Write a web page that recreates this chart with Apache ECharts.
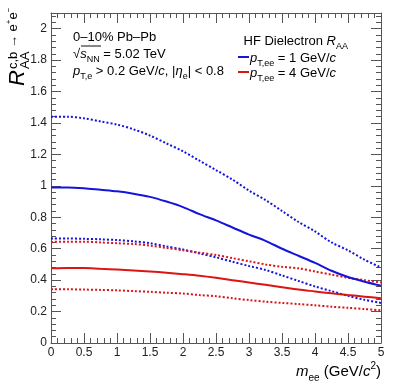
<!DOCTYPE html>
<html>
<head>
<meta charset="utf-8">
<script src="https://cdn.jsdelivr.net/npm/echarts@6/dist/echarts.min.js"></script>
<style>
  html, body { margin: 0; padding: 0; background: #fff; }
  #chart { width: 393px; height: 382px; }
</style>
</head>
<body>
<div id="chart"></div>
<script>
  // m_ee (GeV/c^2) sampling points
  const mee = [0, 0.25, 0.5, 0.75, 1, 1.25, 1.5, 1.75, 2, 2.25, 2.5, 2.75, 3, 3.25, 3.5, 3.75, 4, 4.25, 4.5, 4.75, 5]

  // pT,ee = 1 GeV/c : central value and band edges
  const blueCentral = [0.99, 0.99, 0.985, 0.975, 0.965, 0.95, 0.93, 0.90, 0.865, 0.82, 0.78, 0.735, 0.69, 0.65, 0.60, 0.555, 0.51, 0.46, 0.42, 0.39, 0.365]
  const blueUpper = [1.44, 1.44, 1.43, 1.41, 1.39, 1.36, 1.32, 1.27, 1.22, 1.16, 1.10, 1.04, 0.97, 0.91, 0.84, 0.77, 0.71, 0.64, 0.59, 0.53, 0.48]
  const blueLower = [0.665, 0.665, 0.663, 0.66, 0.655, 0.647, 0.635, 0.615, 0.595, 0.57, 0.545, 0.517, 0.49, 0.465, 0.43, 0.395, 0.36, 0.33, 0.30, 0.275, 0.255]

  // pT,ee = 4 GeV/c
  const redCentral = [0.475, 0.477, 0.477, 0.472, 0.468, 0.462, 0.455, 0.447, 0.438, 0.428, 0.415, 0.40, 0.385, 0.37, 0.355, 0.34, 0.328, 0.316, 0.305, 0.295, 0.285]
  const redUpper = [0.643, 0.645, 0.645, 0.64, 0.635, 0.63, 0.62, 0.605, 0.59, 0.575, 0.56, 0.54, 0.52, 0.50, 0.485, 0.475, 0.455, 0.435, 0.415, 0.40, 0.385]
  const redLower = [0.342, 0.342, 0.34, 0.338, 0.335, 0.33, 0.326, 0.32, 0.315, 0.305, 0.298, 0.285, 0.273, 0.263, 0.255, 0.248, 0.24, 0.231, 0.224, 0.216, 0.208]

  const blue = '#1414dc'
  const red = '#dc1414'
  const font = 'Liberation Sans, Arial, sans-serif'
  const axisColor = '#555'

  const chart = echarts.init(document.getElementById('chart'))

  function pairs (ys) {
    return mee.map(function (x, i) { return [x, ys[i]] })
  }

  function curve (name, ys, color, dotted) {
    return {
      name: name,
      type: 'line',
      data: pairs(ys),
      smooth: 0.3,
      symbol: 'none',
      silent: true,
      lineStyle: {
        color: color,
        width: 2,
        type: dotted ? [2, 2] : 'solid'
      }
    }
  }

  const tickStyle = { color: axisColor, width: 1 }

  function xAxisDef (top) {
    return {
      type: 'value',
      position: top ? 'top' : 'bottom',
      min: 0,
      max: 5,
      interval: 0.5,
      axisLine: { show: true, onZero: false, lineStyle: { color: axisColor } },
      axisTick: { show: true, inside: true, length: 10, lineStyle: tickStyle },
      minorTick: { show: true, splitNumber: 5, length: 5, lineStyle: tickStyle },
      axisLabel: {
        show: !top,
        color: '#222',
        fontFamily: font,
        fontSize: 12,
        margin: 4
      },
      splitLine: { show: false }
    }
  }

  function yAxisDef (right) {
    return {
      type: 'value',
      position: right ? 'right' : 'left',
      min: 0,
      max: 2.1,
      interval: 0.2,
      axisLine: { show: true, onZero: false, lineStyle: { color: axisColor } },
      axisTick: { show: true, inside: true, length: 10, lineStyle: tickStyle },
      minorTick: { show: true, splitNumber: 5, length: 5, lineStyle: tickStyle },
      axisLabel: {
        show: !right,
        color: '#222',
        fontFamily: font,
        fontSize: 12,
        margin: 4,
        showMaxLabel: false,
        formatter: function (v) { return v > 2.05 ? '' : String(+v.toFixed(1)) }
      },
      splitLine: { show: false }
    }
  }

  const txt = { fontFamily: font, fontSize: 13, color: '#111', lineHeight: 20 }
  const rich = {
    i: { fontFamily: font, fontSize: 13, fontStyle: 'italic', color: '#111', lineHeight: 20 },
    sub: { fontFamily: font, fontSize: 9, color: '#111', verticalAlign: 'bottom' },
    isub: { fontFamily: font, fontSize: 9, fontStyle: 'italic', color: '#111', verticalAlign: 'bottom' }
  }

  function label (x, y, text, align) {
    return {
      type: 'text',
      x: x,
      y: y,
      silent: true,
      style: Object.assign({
        text: text,
        rich: rich,
        align: align || 'left',
        verticalAlign: 'middle'
      }, txt)
    }
  }

  // y title pieces, placed by baseline (middle-anchored text, ~0.35em above baseline)
  function yPiece (x, baseline, text, fs, italic, extra) {
    return {
      type: 'text',
      x: x,
      y: baseline - 0.35 * fs,
      style: Object.assign({
        text: text,
        fontFamily: font,
        fontSize: fs,
        fontStyle: italic ? 'italic' : 'normal',
        color: '#111',
        align: 'left',
        verticalAlign: 'middle'
      }, extra || {})
    }
  }

  chart.setOption({
    animation: false,
    grid: { left: 51, right: 12, top: 13, bottom: 39, containLabel: false },
    xAxis: [xAxisDef(false), xAxisDef(true)],
    yAxis: [yAxisDef(false), yAxisDef(true)],
    series: [
      curve('blueUpper', blueUpper, blue, true),
      curve('blueLower', blueLower, blue, true),
      curve('redUpper', redUpper, red, true),
      curve('redLower', redLower, red, true),
      curve('blueCentral', blueCentral, blue, false),
      curve('redCentral', redCentral, red, false)
    ],
    graphic: [
      // left info block
      label(73, 37, '0–10% Pb–Pb'),
      label(73, 54, '√{i|s}{sub|NN} = 5.02 TeV'),
      { type: 'line', silent: true, shape: { x1: 81, y1: 46, x2: 101, y2: 46 }, style: { stroke: '#111', lineWidth: 1 } },
      label(73, 71, '{i|p}{sub|T,e} > 0.2 GeV/{i|c}, |{i|η}{sub|e}| < 0.8'),
      // legend
      label(348, 41, 'HF Dielectron {i|R}{sub|AA}', 'right'),
      { type: 'line', silent: true, shape: { x1: 238, y1: 57, x2: 249, y2: 57 }, style: { stroke: blue, lineWidth: 2 } },
      label(250, 58, '{i|p}{sub|T,ee} = 1 GeV/{i|c}'),
      { type: 'line', silent: true, shape: { x1: 238, y1: 72, x2: 249, y2: 72 }, style: { stroke: red, lineWidth: 2 } },
      label(250, 73, '{i|p}{sub|T,ee} = 4 GeV/{i|c}'),
      // x axis title
      {
        type: 'text',
        x: 381,
        y: 372,
        silent: true,
        style: {
          text: '{i|m}{sub|ee} (GeV/{i|c}{sup|2})',
          align: 'right',
          verticalAlign: 'middle',
          fontFamily: font,
          fontSize: 15,
          color: '#111',
          lineHeight: 22,
          rich: {
            i: { fontFamily: font, fontSize: 15, fontStyle: 'italic', color: '#111', lineHeight: 22 },
            sub: { fontFamily: font, fontSize: 10, color: '#111', verticalAlign: 'bottom' },
            sup: { fontFamily: font, fontSize: 10, color: '#111', verticalAlign: 'top' }
          }
        }
      },
      // y axis title, rotated to read bottom-to-top; origin = baseline start of "R"
      {
        type: 'group',
        x: 26,
        y: 86,
        rotation: Math.PI / 2,
        silent: true,
        children: [
          yPiece(0, 0, 'R', 22, true),
          yPiece(17, -8.5, 'c,b → e{s|+}e{s|−}', 13, false, {
            lineHeight: 16,
            rich: { s: { fontFamily: font, fontSize: 8, color: '#111', verticalAlign: 'top' } }
          }),
          yPiece(17, 4, 'AA', 13, false)
        ]
      }
    ]
  })
</script>
</body>
</html>
